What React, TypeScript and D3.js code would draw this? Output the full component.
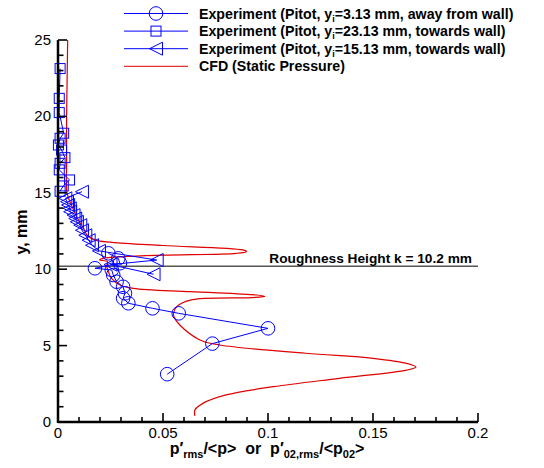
import React from "react";
import * as d3 from "d3";

// ---- data ----
const xTicksMajor = [0, 0.05, 0.1, 0.15, 0.2];
const xTickLabels = ["0", "0.05", "0.1", "0.15", "0.2"];
const yTicksMajor = [0, 5, 10, 15, 20, 25];
const roughnessK = 10.2;

// Experiment circles (yi=3.13 mm, away from wall)
const circX = [0.052, 0.0735, 0.1, 0.0575, 0.045, 0.0335, 0.031, 0.0319, 0.031, 0.0279, 0.0263, 0.0256, 0.0176, 0.0295, 0.0287, 0.024];
const circY = [3.13, 5.13, 6.13, 7.11, 7.44, 7.77, 8.1, 8.42, 8.85, 9.18, 9.62, 9.95, 10.06, 10.39, 10.71, 11.04];

// Experiment squares (yi=23.13 mm, towards wall)
const sqX = [0.001, 0.0006, 0.0006, 0.0027, 0.001, 0.0002, 0.0017, 0.0033, 0.001, 0.0006, 0.0055, 0.0025, 0.001];
const sqY = [23.13, 21.18, 20.25, 18.9, 18.57, 18.13, 17.8, 17.3, 16.93, 16.5, 15.84, 15.45, 15.1];

// Experiment triangles (yi=15.13 mm, towards wall)
const triX = [0.0114, 0.0035, 0.0043, 0.0048, 0.0056, 0.0058, 0.0074, 0.0082, 0.009, 0.0106, 0.0114, 0.013, 0.0146, 0.0162, 0.0195, 0.047, 0.025, 0.0455];
const triY = [15.07, 14.64, 14.42, 14.2, 13.98, 13.76, 13.54, 13.32, 13.1, 12.88, 12.55, 12.22, 11.9, 11.57, 11.2, 10.6, 10.3, 9.67];

// CFD (static pressure)
const cfdX = [0.0046, 0.0043, 0.0041, 0.0041, 0.0043, 0.0067, 0.0098, 0.0122, 0.0138, 0.0178, 0.0257, 0.05, 0.088, 0.0898, 0.085, 0.05, 0.031, 0.0216, 0.0198, 0.0235, 0.0232, 0.024, 0.0255, 0.0295, 0.0359, 0.063, 0.0946, 0.0985, 0.092, 0.063, 0.0565, 0.055, 0.0552, 0.058, 0.0676, 0.077, 0.118, 0.15, 0.166, 0.1705, 0.166, 0.134, 0.1025, 0.08, 0.069, 0.0652, 0.0652];
const cfdY = [25, 22, 20, 17, 15, 14.1, 13.2, 12.68, 12.24, 11.9, 11.76, 11.55, 11.26, 11.15, 11.04, 10.92, 10.82, 10.71, 10.6, 10.5, 10.2, 9.84, 9.4, 8.97, 8.75, 8.53, 8.31, 8.22, 8.14, 7.98, 7.55, 7.11, 6.89, 6.35, 5.37, 5.04, 4.5, 4.17, 3.84, 3.6, 3.4, 2.86, 2.31, 1.77, 1.22, 0.79, 0.4];

const legendLabels = [
  ["Experiment (Pitot, y", "i", "=3.13 mm, away from wall)"],
  ["Experiment (Pitot, y", "i", "=23.13 mm, towards wall)"],
  ["Experiment (Pitot, y", "i", "=15.13 mm, towards wall)"],
  ["CFD (Static Pressure)", "", ""],
];

const BLUE = "#0000ff";
const RED = "#e00000";
const FONT = "Arial, 'Liberation Sans', Helvetica, sans-serif";

const x = d3.scaleLinear().domain([0, 0.2]).range([58, 478]);
const y = d3.scaleLinear().domain([0, 25]).range([422, 40]);

function Marker({ kind, cx, cy }: { kind: string; cx: number; cy: number }) {
  if (kind === "circle") return <circle cx={cx} cy={cy} r={6.8} fill="none" stroke={BLUE} strokeWidth={1} />;
  if (kind === "square") return <rect x={cx - 5} y={cy - 5} width={10} height={10} fill="none" stroke={BLUE} strokeWidth={1} />;
  const s = 6.5;
  return <path d={`M${cx - s},${cy} L${cx + s},${cy - s} L${cx + s},${cy + s} Z`} fill="none" stroke={BLUE} strokeWidth={1} />;
}

export default function App() {
  const pts = (xs: number[], ys: number[]) => xs.map((v, i) => [x(v), y(ys[i])] as [number, number]);
  const lin = d3.line<[number, number]>();
  const smooth = d3.line<[number, number]>().curve(d3.curveCatmullRom.alpha(0.5));
  const circ = pts(circX, circY);
  const sq = pts(sqX, sqY);
  const tri = pts(triX, triY);
  const cfd = pts(cfdX, cfdY);

  const xMinor = d3.range(0, 0.2001, 0.01);
  const yMinor = d3.range(0, 25.001, 1);

  return (
    <svg width={544} height={468} style={{ position: "absolute", left: 0, top: 0, background: "#fff" }} fontFamily={FONT}>
      {/* CFD */}
      <path d={smooth(cfd) || ""} fill="none" stroke={RED} strokeWidth={1.2} />
      {/* roughness line */}
      <line x1={x(0)} x2={x(0.2)} y1={y(roughnessK)} y2={y(roughnessK)} stroke="#555" strokeWidth={1.5} />
      <text x={472} y={y(roughnessK) - 3.5} textAnchor="end" fontSize={13.7} fontWeight="bold">Roughness Height k = 10.2 mm</text>
      {/* experiments */}
      <path d={lin(sq) || ""} fill="none" stroke={BLUE} strokeWidth={1} />
      {sq.map((p, i) => <Marker key={"s" + i} kind="square" cx={p[0]} cy={p[1]} />)}
      <path d={lin(tri) || ""} fill="none" stroke={BLUE} strokeWidth={1} />
      {tri.map((p, i) => <Marker key={"t" + i} kind="tri" cx={p[0]} cy={p[1]} />)}
      <path d={lin(circ) || ""} fill="none" stroke={BLUE} strokeWidth={1} />
      {circ.map((p, i) => <Marker key={"c" + i} kind="circle" cx={p[0]} cy={p[1]} />)}

      {/* axes */}
      <line x1={x(0)} x2={x(0)} y1={y(0) + 1} y2={y(25)} stroke="#000" strokeWidth={2.5} />
      <line x1={x(0)} x2={x(0.2)} y1={y(0)} y2={y(0)} stroke="#000" strokeWidth={2.5} />
      {xMinor.map((v, i) => (
        <line key={"xm" + i} x1={x(v)} x2={x(v)} y1={y(0)} y2={y(0) - (i % 5 === 0 ? 9 : 5)} stroke="#000" strokeWidth={1.6} />
      ))}
      {yMinor.map((v, i) => (
        <line key={"ym" + i} x1={x(0)} x2={x(0) + (i % 5 === 0 ? 9 : 5.5)} y1={y(v)} y2={y(v)} stroke="#000" strokeWidth={1.6} />
      ))}
      {xTicksMajor.map((v, i) => (
        <text key={"xl" + i} x={x(v)} y={438} textAnchor="middle" fontSize={15}>{xTickLabels[i]}</text>
      ))}
      {yTicksMajor.map((v) => (
        <text key={"yl" + v} x={51} y={y(v) + 5} textAnchor="end" fontSize={15}>{v}</text>
      ))}
      <text transform={`translate(27,232) rotate(-90)`} textAnchor="middle" fontSize={16} fontWeight="bold">y, mm</text>
      <text x={267} y={454} textAnchor="middle" fontSize={16} fontWeight="bold" style={{ whiteSpace: "pre" }}>
        <tspan>p′</tspan>
        <tspan dy={4} fontSize={11}>rms</tspan>
        <tspan dy={-4}>{"/<p>  or  p′"}</tspan>
        <tspan dy={4} fontSize={11}>02,rms</tspan>
        <tspan dy={-4}>/&lt;p</tspan>
        <tspan dy={4} fontSize={11}>02</tspan>
        <tspan dy={-4}>&gt;</tspan>
      </text>

      {/* legend */}
      {legendLabels.map((lab, i) => {
        const ly = 13.5 + i * 17.6;
        const kinds = ["circle", "square", "tri", ""];
        return (
          <g key={"lg" + i}>
            <line x1={124} x2={188} y1={ly} y2={ly} stroke={i === 3 ? RED : BLUE} strokeWidth={1} />
            {kinds[i] && <Marker kind={kinds[i]} cx={156} cy={ly} />}
            <text x={199} y={ly + 5} fontSize={14.2} fontWeight="bold" style={{ whiteSpace: "pre" }}>
              <tspan>{lab[0]}</tspan>
              {lab[1] && <tspan dy={3} fontSize={9}>{lab[1]}</tspan>}
              {lab[1] && <tspan dy={-3}>{lab[2]}</tspan>}
            </text>
          </g>
        );
      })}
    </svg>
  );
}
